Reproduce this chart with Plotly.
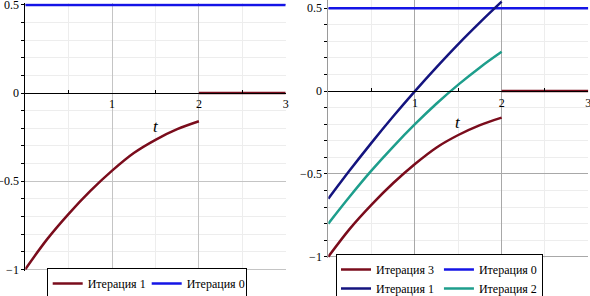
import plotly.graph_objects as go

# ---- data ----
t_vals = [0, 0.25, 0.5, 0.75, 1.0, 1.25, 1.5, 1.75, 2.0]
tail_t = [2, 3]
tail_vals = [0, 0]
iter0_t = [0, 3]
iter0_vals = [0.5, 0.5]
iter1_vals = [-0.65, -0.477, -0.311, -0.152, 0.0, 0.145, 0.284, 0.415, 0.54]
iter2_vals = [-0.8, -0.635, -0.479, -0.335, -0.2, -0.075, 0.039, 0.143, 0.237]
iter3_vals = [-1.0, -0.83, -0.685, -0.555, -0.44, -0.34, -0.265, -0.205, -0.16]

x_tickvals = [1, 2, 3]
x_ticktext = ["1", "2", "3"]
y_tickvals = [-1, -0.5, 0, 0.5]
y_ticktext = ["\u22121", "\u22120.5", "0", "0.5"]

RED = "#7a0c1c"
BLUE = "#1414e6"
NAVY = "#14147f"
TEAL = "#1e9e8c"
FONT = "Liberation Serif, Times New Roman, serif"

fig = go.Figure()

def red_piece(name, xa, ya, legend, group=None):
    return go.Scatter(x=t_vals + [None] + tail_t, y=iter3_vals + [None] + tail_vals,
                      mode="lines", line=dict(color=RED, width=2.5, shape="spline"),
                      name=name, xaxis=xa, yaxis=ya, legend=legend, legendgroup=group)

# left panel
fig.add_trace(red_piece("Итерация 1", "x", "y", "legend"))
fig.add_trace(go.Scatter(x=iter0_t, y=iter0_vals, mode="lines", line=dict(color=BLUE, width=2.5),
                         name="Итерация 0", xaxis="x", yaxis="y", legend="legend"))
# right panel (legend groups = legend columns)
fig.add_trace(red_piece("Итерация 3", "x2", "y2", "legend2", "c1"))
fig.add_trace(go.Scatter(x=iter0_t, y=iter0_vals, mode="lines", line=dict(color=BLUE, width=2.5),
                         name="Итерация 0", xaxis="x2", yaxis="y2", legend="legend2", legendgroup="c2"))
fig.add_trace(go.Scatter(x=t_vals, y=iter1_vals, mode="lines", line=dict(color=NAVY, width=2.5, shape="spline"),
                         name="Итерация 1", xaxis="x2", yaxis="y2", legend="legend2", legendgroup="c1"))
fig.add_trace(go.Scatter(x=t_vals, y=iter2_vals, mode="lines", line=dict(color=TEAL, width=2.5, shape="spline"),
                         name="Итерация 2", xaxis="x2", yaxis="y2", legend="legend2", legendgroup="c2"))

W, H = 590, 296

def zero_pos(dom, rng):
    return dom[0] + (0 - rng[0]) / (rng[1] - rng[0]) * (dom[1] - dom[0])

panels = [
    dict(xd=[25.3 / W, 285.7 / W], yr=[-1.01, 0.51], yd=[1 - 271.1 / H, 1 - 3.2 / H], ylc="black", mg="#c4c4c4"),
    dict(xd=[328.3 / W, 588.3 / W], yr=[-1.01, 0.55], yd=[1 - 258.4 / H, 1.0], ylc="#9a9a9a", mg="#a8a8a8"),
]

tickfont = dict(family=FONT, size=12, color="black")
for i, p in enumerate(panels):
    sx = "" if i == 0 else "2"
    fig.update_layout(**{
        "xaxis" + sx: dict(domain=p["xd"], range=[0, 3], anchor="free",
                           position=zero_pos(p["yd"], p["yr"]),
                           tickmode="array", tickvals=x_tickvals, ticktext=x_ticktext,
                           showline=True, linecolor="black", linewidth=1, ticklabeloverflow="allow",
                           ticks="", tickfont=tickfont, showgrid=True, gridcolor=p["mg"], gridwidth=1,
                           zeroline=False, fixedrange=True,
                           minor=dict(tickvals=[0.5, 1.5, 2.5], showgrid=True, gridcolor="#ededed",
                                      ticks="inside", ticklen=3, tickcolor="black")),
        "yaxis" + sx: dict(domain=p["yd"], range=p["yr"], anchor="x" + sx,
                           tickmode="array", tickvals=y_tickvals, ticktext=y_ticktext,
                           showline=True, linecolor=p["ylc"], linewidth=1, ticklabeloverflow="allow",
                           ticks="outside", ticklen=3, tickcolor="black", tickfont=tickfont,
                           showgrid=True, gridcolor=p["mg"], gridwidth=1, zeroline=False, fixedrange=True,
                           minor=dict(dtick=0.1, tick0=0, showgrid=True, gridcolor="#ededed",
                                      ticks="outside", ticklen=3, tickcolor="black")),
    })
    fig.add_annotation(x=1.5, y=-0.19, xref="x" + sx, yref="y" + sx, text="<i>t</i>", showarrow=False,
                       font=dict(family=FONT, size=17, color="black"))

legfont = dict(family=FONT, size=12, color="black")
fig.update_layout(
    width=W, height=H, margin=dict(l=0, r=0, t=0, b=0, autoexpand=False),
    font=dict(family=FONT),
    plot_bgcolor="white", paper_bgcolor="white", showlegend=True,
    legend=dict(x=46.7 / W, y=-3 / H, xanchor="left", yanchor="bottom", orientation="h",
                bordercolor="black", borderwidth=1, font=legfont, bgcolor="white",
                itemwidth=30, entrywidth=54, tracegroupgap=0),
    legend2=dict(x=336 / W, y=-8 / H, xanchor="left", yanchor="bottom", orientation="h",
                 bordercolor="black", borderwidth=1, font=legfont, bgcolor="white",
                 itemwidth=30, traceorder="grouped", tracegroupgap=12),
)

fig.write_html("out.html", config={"displayModeBar": False},
               post_script="document.body.style.margin='0';document.body.style.overflow='hidden';")
